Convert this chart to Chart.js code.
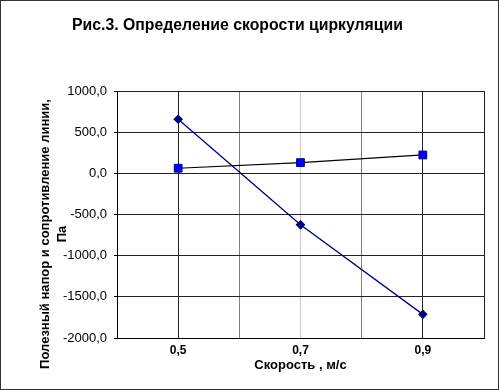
<!DOCTYPE html>
<html><head><meta charset="utf-8">
<script src="https://cdn.jsdelivr.net/npm/chart.js@4/dist/chart.umd.min.js"></script>
<style>html,body{margin:0;padding:0;background:#fff}#c{display:block}</style>
</head><body>
<canvas id="c" width="499" height="390"></canvas>
<script>
const chartTitle = "Рис.3. Определение скорости циркуляции";
const yTitle = ["Полезный напор и сопротивление линии,", "Па"];
const xTitle = "Скорость , м/с";
const speeds = [0.5, 0.7, 0.9];
const usefulHead = [657, -625, -1713];
const lineResistance = [62, 130, 223];
const xLabelled = [0.5, 0.7, 0.9];
const FONT = '"Liberation Sans", Arial, sans-serif';

const decorations = {
  id: 'decorations',
  afterDraw(chart) {
    const ctx = chart.ctx;
    ctx.save();
    ctx.fillStyle = '#000';
    ctx.textAlign = 'center';
    ctx.textBaseline = 'middle';
    ctx.font = 'bold 15.8px ' + FONT;
    ctx.fillText(chartTitle, 237.5, 25.5);
    ctx.font = 'bold 13px ' + FONT;
    const xs = [45, 62];
    yTitle.forEach((t, i) => {
      ctx.save();
      ctx.translate(xs[i], 234);
      ctx.rotate(-Math.PI / 2);
      ctx.fillText(t, 0, 0);
      ctx.restore();
    });
    ctx.strokeStyle = '#333';
    ctx.lineWidth = 1;
    ctx.strokeRect(0.5, 0.5, 498, 389);
    ctx.restore();
  }
};

function vGridColor(ctx) {
  const v = ctx.tick ? Math.round(ctx.tick.value * 10) : 0;
  if (v === 6 || v === 8) return '#808080';
  if (v === 7) return '#c8c8c8';
  return '#222';
}

new Chart(document.getElementById('c'), {
  type: 'scatter',
  data: {
    datasets: [
      {
        data: speeds.map((x, i) => ({x, y: usefulHead[i]})),
        showLine: true,
        borderColor: '#000080',
        borderWidth: 1.3,
        backgroundColor: '#000080',
        pointStyle: 'rectRot',
        pointRadius: 4,
        pointBorderWidth: 1.2,
        pointBorderColor: '#000080'
      },
      {
        data: speeds.map((x, i) => ({x, y: lineResistance[i]})),
        showLine: true,
        borderColor: '#000',
        borderWidth: 1.2,
        backgroundColor: '#0000ff',
        pointStyle: 'rect',
        pointRadius: 5.5,
        pointBorderWidth: 1,
        pointBorderColor: '#000080'
      }
    ]
  },
  options: {
    responsive: false,
    animation: false,
    devicePixelRatio: 1,
    layout: {padding: {top: 91, right: 15, left: 0, bottom: 0}},
    plugins: {legend: {display: false}, tooltip: {enabled: false}, title: {display: false}},
    scales: {
      x: {
        type: 'linear',
        min: 0.4, max: 1.0,
        afterFit: s => { s.height = 52; },
        ticks: {
          stepSize: 0.1,
          autoSkip: false,
          maxRotation: 0,
          padding: 5,
          color: '#000',
          font: {family: FONT, size: 12, weight: 'bold'},
          callback: v => xLabelled.some(l => Math.abs(l - v) < 1e-6) ? v.toFixed(1).replace('.', ',') : ''
        },
        grid: {color: vGridColor, drawTicks: false, lineWidth: 1},
        border: {color: '#000', width: 1},
        title: {
          display: true, text: xTitle, color: '#000',
          font: {family: FONT, size: 13, weight: 'bold', lineHeight: '15px'},
          padding: {top: 0, bottom: 17}
        }
      },
      y: {
        min: -2000, max: 1000,
        afterFit: s => { s.width = 117; },
        ticks: {
          stepSize: 500,
          padding: 7,
          color: '#000',
          font: {family: FONT, size: 13},
          callback: v => v.toFixed(1).replace('.', ',')
        },
        grid: {color: '#222', drawTicks: true, tickLength: 3, tickColor: '#000', lineWidth: 1},
        border: {color: '#000', width: 1}
      }
    }
  },
  plugins: [decorations]
});
</script>
</body></html>
